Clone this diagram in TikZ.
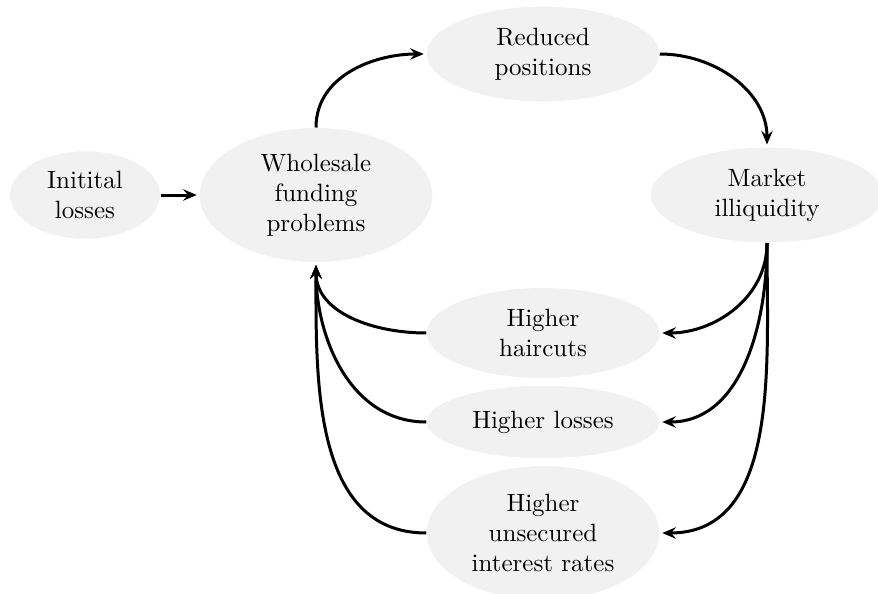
\documentclass[tikz,border=0pt]{standalone}
\usetikzlibrary{shapes.geometric,arrows.meta}
\definecolor{nodefill}{RGB}{241,241,241}
\tikzset{
  bubble/.style={ellipse, fill=nodefill, inner sep=0pt, align=center, font=\normalsize},
  link/.style={line width=1.2pt, shorten >=1pt, -{Stealth[length=5.5pt,width=4.6pt,inset=2pt]}},
}
\begin{document}
\begin{tikzpicture}[x=0.4pt,y=-0.4pt]
\clip (0,0) rectangle (878,593);
\useasboundingbox (0,0) rectangle (878,593);
\node[bubble, minimum width=60pt, minimum height=35pt] (init) at (85,195) {Initital\\losses};
\node[bubble, minimum width=93pt, minimum height=53.6pt] (whole) at (316,195) {Wholesale\\funding\\problems};
\node[bubble, minimum width=93pt, minimum height=38pt] (reduced) at (543,54) {Reduced\\positions};
\node[bubble, minimum width=93pt, minimum height=38pt] (market) at (767,195) {Market\\illiquidity};
\node[bubble, minimum width=93pt, minimum height=36pt] (hair) at (543,333) {Higher\\haircuts};
\node[bubble, minimum width=93pt, minimum height=29pt] (loss) at (543,422) {Higher losses};
\node[bubble, minimum width=93pt, minimum height=53.6pt] (rates) at (543,533) {Higher\\unsecured\\interest rates};

\draw[link] (init) -- (whole);
\draw[link] (whole.north) to[out=90,in=180] (reduced.west);
\draw[link] (reduced.east) to[out=0,in=90] (market.north);
\draw[link] (market.south) to[out=-90,in=0] (hair.east);
\draw[link] (market.south) to[out=-90,in=0] (loss.east);
\draw[link] (market.south) to[out=-90,in=0] (rates.east);
\draw[link] (hair.west) to[out=180,in=-90] (whole.south);
\draw[link] (loss.west) to[out=180,in=-90] (whole.south);
\draw[link] (rates.west) to[out=180,in=-90] (whole.south);
\end{tikzpicture}
\end{document}
